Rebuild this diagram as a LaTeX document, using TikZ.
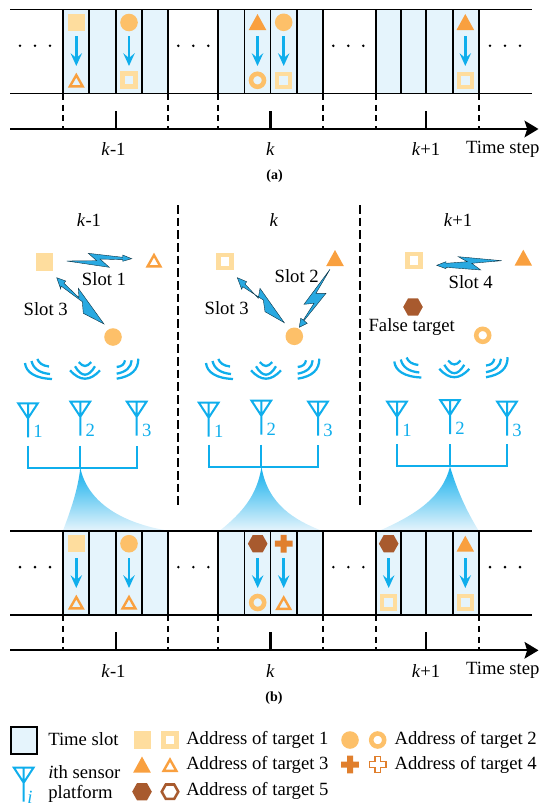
\documentclass[tikz,border=0pt]{standalone}
\usepackage{xcolor}
\usepackage{fontspec}
\setmainfont{Liberation Serif}
\usepackage{tikz}
\usetikzlibrary{arrows.meta,positioning,calc}
\definecolor{slotblue}{HTML}{E5F4FC}
\definecolor{linkblue}{HTML}{0FAEEC}
\definecolor{boltblue}{HTML}{29A9E1}
\definecolor{addrone}{HTML}{FEDD9E}
\definecolor{addrtwo}{HTML}{FDC069}
\definecolor{addrthree}{HTML}{F9A03F}
\definecolor{addrfour}{HTML}{E07F2D}
\definecolor{addrfive}{HTML}{A85A2E}
\tikzset{
  lbl/.style={font=\fontsize{14pt}{16pt}\selectfont,inner sep=0pt},
  caplbl/.style={font=\fontsize{10.5pt}{12pt}\selectfont\bfseries,inner sep=0pt},
  rail/.style={black,line width=1.4pt},
  cutline/.style={black,line width=1.3pt,dash pattern=on 4.5pt off 3.5pt},
  splitline/.style={black,line width=1.4pt,dash pattern=on 6.5pt off 3pt},
  bus/.style={linkblue,line width=1.5pt},
  wave/.style={linkblue,line width=1.7pt},
  hop/.style={linkblue,line width=1.9pt,-{Stealth[length=9.5pt,width=8.5pt,inset=3.5pt]}},
  bolt/.style={fill=boltblue,draw=black!70!boltblue,line width=0.3pt,line join=miter},
  fullsq/.pic={\fill[addrone] (-8.7,-8.7) rectangle (8.7,8.7);},
  hollowsq/.pic={\draw[addrone,line width=3.4pt] (-6.5,-6.5) rectangle (6.5,6.5);},
  fullcirc/.pic={\fill[addrtwo] (0,0) circle (8.8);},
  hollowcirc/.pic={\draw[addrtwo,line width=3.4pt] (0,0) circle (6.5);},
  fulltri/.pic={\fill[addrthree] (-8.8,8) -- (8.8,8) -- (0,-8) -- cycle;},
  hollowtri/.pic={\draw[addrthree,line width=1.8pt] (-6.4,6.4) -- (6.4,6.4) -- (0,-4.9) -- cycle;},
  fullplus/.pic={\fill[addrfour] (-3,-8.8) -- (3,-8.8) -- (3,-3) -- (8.8,-3) -- (8.8,3) -- (3,3) -- (3,8.8) -- (-3,8.8) -- (-3,3) -- (-8.8,3) -- (-8.8,-3) -- (-3,-3) -- cycle;},
  hollowplus/.pic={\draw[addrfour,line width=1.1pt] (-2.8,-8.2) -- (2.8,-8.2) -- (2.8,-2.8) -- (8.2,-2.8) -- (8.2,2.8) -- (2.8,2.8) -- (2.8,8.2) -- (-2.8,8.2) -- (-2.8,2.8) -- (-8.2,2.8) -- (-8.2,-2.8) -- (-2.8,-2.8) -- cycle;},
  fullhex/.pic={\fill[addrfive] (-9.8,0) -- (-5,-8.6) -- (5,-8.6) -- (9.8,0) -- (5,8.6) -- (-5,8.6) -- cycle;},
  hollowhex/.pic={\draw[addrfive,line width=1.9pt] (-8.3,0) -- (-4.2,-7.2) -- (4.2,-7.2) -- (8.3,0) -- (4.2,7.2) -- (-4.2,7.2) -- cycle;},
  antenna/.pic={\draw[bus] (-9.8,0) -- (9.8,0) -- (0,15) -- cycle (0,0) -- (0,34);},
  waveleft/.pic={
    \draw[wave] (-25,3) .. controls (-24,12.3) and (-15,18.3) .. (2,19);
    \draw[wave] (-18.5,1) .. controls (-16.7,8.7) and (-10.5,13) .. (0,14);
    \draw[wave] (-12.7,-1) .. controls (-11,3.2) and (-7.4,5.7) .. (-1,6.5);
  },
  wavemid/.pic={
    \draw[wave] (-15,10.3) .. controls (-5,21.5) and (5,21.5) .. (15,10.3);
    \draw[wave] (-10,6.3) .. controls (-3.3,17.5) and (3.3,17.5) .. (10,6.3);
    \draw[wave] (-6.2,2) .. controls (-2,7.3) and (2,7.3) .. (6.2,2);
  },
  waveright/.pic={
    \draw[wave] (22.3,-1.3) .. controls (22.4,9.8) and (15.3,16.4) .. (0.7,18.7);
    \draw[wave] (15.7,0.3) .. controls (15.1,7.4) and (10.1,11.9) .. (0.7,13.7);
    \draw[wave] (9,0.3) .. controls (8.4,4.3) and (5.7,6.6) .. (0.7,7);
  },
  sensorset/.pic={
    \pic at (0,0) {waveleft};
    \pic at (35,0) {wavemid};
    \pic at (66,0) {waveright};
  },
  slotpanel/.pic={
    \foreach \xa/\xb in {63/168,218/323,376/479}
      \fill[slotblue] (\xa,9.5) rectangle (\xb,93.5);
    \foreach \xs in {63,89.3,115.7,142,168,218,244.5,270.5,296.8,323,376,400.7,426.3,452.8,479}
      \draw[rail] (\xs,9.5) -- (\xs,93.5);
    \draw[rail] (10,9.5) -- (531.5,9.5);
    \draw[rail] (10,93.5) -- (531.5,93.5);
    \foreach \xs in {63,168,218,323,376,479}
      \draw[cutline] (\xs,94) -- (\xs,129);
    \foreach \xs in {115.7,270.5,426.3}
      \draw[black,line width=1.6pt] (\xs,111) -- (\xs,129);
    \draw[rail,-{Stealth[length=10.5pt,width=12.5pt,inset=2pt]}] (10,129) -- (538.5,129);
    \foreach \xd in {20,178.3,333.3,490}
      \foreach \xo in {0,15,30}
        \fill[black] (\xd+\xo,45.8) circle (1.4);
    \node[lbl] (-kprev) at (113.5,149.5) {\textit{k}-1};
    \node[lbl] (-know) at (270.5,149.5) {\textit{k}};
    \node[lbl] (-knext) at (426,149.5) {\textit{k}+1};
    \node[lbl] (-timestep) at (502.8,149) {Time step};
  },
}
\begin{document}
\begin{tikzpicture}[x=0.75pt,y=-0.75pt,>=latex]
  \useasboundingbox (0,0) rectangle (550,810);

  \pic (pa) at (0,0) {slotpanel};
  \pic at (76.3,22.3) {fullsq};
  \pic at (76.3,80) {hollowtri};
  \pic at (129,22.5) {fullcirc};
  \pic at (129,80) {hollowsq};
  \pic at (257.5,22) {fulltri};
  \pic at (257.5,80.3) {hollowcirc};
  \pic at (283.7,22.3) {fullcirc};
  \pic at (283.7,80.3) {hollowsq};
  \pic at (465.3,22) {fulltri};
  \pic at (465.3,80.3) {hollowsq};
  \foreach \xs in {76.3,129,257.5,283.7,465.3}
    \draw[hop] (\xs,36) -- (\xs,66);
  \node[caplbl] (capa) at (274.5,176) {(a)};

  \node[lbl] (colprev) at (89,220) {\textit{k}-1};
  \node[lbl] (colnow) at (274,220) {\textit{k}};
  \node[lbl] (colnext) at (458,220) {\textit{k}+1};
  \draw[splitline] (178,205) -- (178,507);
  \draw[splitline] (360,205) -- (360,507);

  \pic at (44.3,262) {fullsq};
  \pic at (154,260) {hollowtri};
  \pic at (113,337) {fullcirc};
  \draw[bolt] (66.7,261) -- (96.7,260.7) -- (88.3,253.3) -- (122.7,257.3) -- (122.7,255) -- (131.7,258.7) -- (122.7,261.3) -- (122.7,259.7) -- (100,259) -- (109.3,267.3) -- cycle;
  \draw[bolt] (56.7,277.7) -- (65.7,281) -- (64,283.3) -- (79,297.7) -- (78.3,288.3) -- (104,324) -- (83.3,313.3) -- (82.3,301.7) -- (61,286) -- (60.7,289) -- cycle;
  \node[lbl] (slotone) at (104,279) {Slot 1};
  \node[lbl] (slotthreea) at (45.7,308.7) {Slot 3};

  \pic at (225,261.3) {hollowsq};
  \pic at (335,258) {fulltri};
  \pic at (294.3,336.3) {fullcirc};
  \draw[bolt] (237.3,277.7) -- (246.7,281.7) -- (245,284) -- (258.3,298.3) -- (260,288.3) -- (284.3,322.7) -- (265,311.7) -- (263.3,300) -- (242.7,286.7) -- (241.7,289.3) -- cycle;
  \draw[bolt] (330,269.3) -- (316,293.3) -- (326,293.3) -- (304,320.7) -- (307.3,323.3) -- (299.3,327.3) -- (300.7,318.3) -- (303.3,320) -- (314,303.3) -- (304,304.3) -- cycle;
  \node[lbl] (slotthreeb) at (226.7,307.7) {Slot 3};
  \node[lbl] (slottwo) at (296.7,275.7) {Slot 2};

  \pic at (414,260.7) {hollowsq};
  \pic at (523.3,257.7) {fulltri};
  \pic at (413,307) {fullhex};
  \pic at (482.7,335.3) {hollowcirc};
  \draw[bolt] (501.7,260.7) -- (458.3,256.7) -- (467.3,261.7) -- (446,263.3) -- (446,261.7) -- (436.7,265.3) -- (446,268.7) -- (446,267.3) -- (480.7,270) -- (471.7,263.3) -- cycle;
  \node[lbl] (slotfour) at (470.7,282) {Slot 4};
  \node[lbl] (falsetarget) at (411.7,327.3) {False target};

  \pic at (50,360) {sensorset};
  \pic at (231,360) {sensorset};
  \pic at (419.3,358.5) {sensorset};

  \foreach \xs/\ys/\yt/\num in {28/403.3/431.7/1,80.3/401.7/430/2,136.7/401.7/430/3,208.7/402.7/431/1,261.3/400.7/429.5/2,318/401.7/430/3,397/401.7/430/1,450/400/428.5/2,507/401.7/430/3}{
    \pic at (\xs,\ys) {antenna};
    \node[lbl,text=linkblue] (ant\xs) at (\xs+10,\yt) {\num};
  }

  \shade[top color=linkblue,middle color=linkblue!45!white,bottom color=slotblue] (80.3,467.7) .. controls (87,500) and (118,522) .. (166.7,530.5) -- (63,530.5) .. controls (70,512) and (78,490) .. cycle;
  \shade[top color=linkblue,middle color=linkblue!45!white,bottom color=slotblue] (261.5,467) .. controls (268,505) and (295,520) .. (321,530.5) -- (220,530.5) .. controls (243,512) and (257,495) .. cycle;
  \shade[top color=linkblue,middle color=linkblue!45!white,bottom color=slotblue] (450,466.5) .. controls (442,500) and (410,517) .. (380,530.5) -- (478.5,530.5) .. controls (466,510) and (457,490) .. cycle;

  \draw[bus] (28,445.7) |- (136.7,467.7) -- (136.7,445.7) (80.3,445.7) -- (80.3,467.7);
  \draw[bus] (208.7,444.7) |- (318,466.7) -- (318,444.7) (261.3,444.7) -- (261.3,466.7);
  \draw[bus] (397,444) |- (506.7,466) -- (506.7,444) (450,444) -- (450,466);

  \pic (pb) at (0,521.3) {slotpanel};
  \pic at (76.3,543.7) {fullsq};
  \pic at (76.3,602) {hollowtri};
  \pic at (129,543.7) {fullcirc};
  \pic at (129,602) {hollowtri};
  \pic at (257.7,543.7) {fullhex};
  \pic at (257.7,602.5) {hollowcirc};
  \pic at (283.7,543.7) {fullplus};
  \pic at (283.7,602.5) {hollowtri};
  \pic at (388.7,543.7) {fullhex};
  \pic at (388.7,602.5) {hollowsq};
  \pic at (465.3,543.7) {fulltri};
  \pic at (465.3,602.5) {hollowsq};
  \foreach \xs in {76.3,129,257.7,283.7,388.7,465.3}
    \draw[hop] (\xs,558) -- (\xs,588);
  \node[caplbl] (capb) at (274,698) {(b)};

  \draw[fill=slotblue,draw=black,line width=1.5pt] (10.5,727) rectangle (37,753.5);
  \node[lbl,anchor=west] (legslot) at (48,739.5) {Time slot};
  \pic at (23.7,767.7) {antenna};
  \node[lbl,text=linkblue] (legi) at (30,797) {\textit{i}};
  \node[lbl,anchor=west] (legsensor) at (48,771.7) {\textit{i}th sensor};
  \node[lbl,anchor=west] (legplatform) at (48,794) {platform};

  \pic at (142.3,740) {fullsq};
  \pic at (170,740) {hollowsq};
  \pic at (142,764.5) {fulltri};
  \pic at (170,764.5) {hollowtri};
  \pic at (142,791.7) {fullhex};
  \pic at (170,791.7) {hollowhex};
  \pic at (350,740) {fullcirc};
  \pic at (377.7,740) {hollowcirc};
  \pic at (350,764.5) {fullplus};
  \pic at (377.7,764.5) {hollowplus};
  \node[lbl,anchor=west] (legone) at (186,740) {Address of target 1};
  \node[lbl,anchor=west] (legthree) at (186,764.5) {Address of target 3};
  \node[lbl,anchor=west] (legfive) at (186,791) {Address of target 5};
  \node[lbl,anchor=west] (legtwo) at (394.3,740) {Address of target 2};
  \node[lbl,anchor=west] (legfour) at (394.3,764.5) {Address of target 4};
\end{tikzpicture}
\end{document}
